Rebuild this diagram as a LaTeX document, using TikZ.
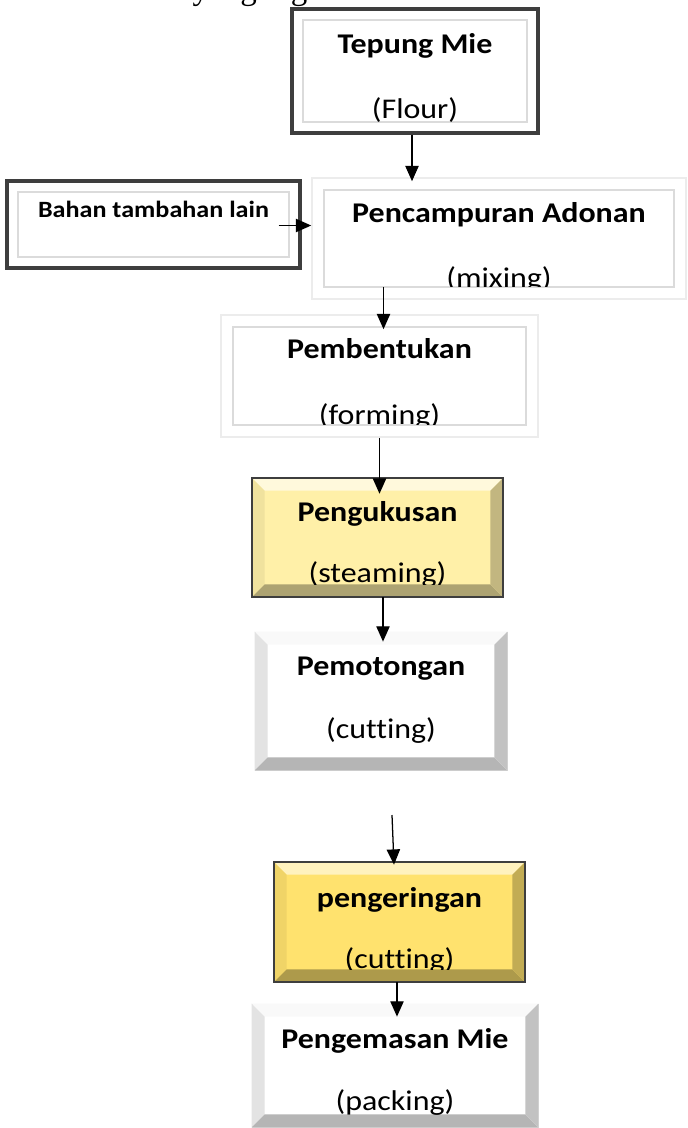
\documentclass[tikz,border=0pt]{standalone}
\usepackage{fontspec}
\setmainfont{Liberation Serif}
\newfontfamily\boxfont[FakeStretch=1.12, Ligatures=NoCommon]{Carlito}
\usetikzlibrary{arrows.meta, calc, fit}
\definecolor{cFrame}{RGB}{62,62,62}
\definecolor{cYellowA}{RGB}{255,240,168}
\definecolor{cYellowB}{RGB}{255,226,110}

\newcommand{\bevelbox}[6]{%
  \fill[#2] (#1.north west) -- (#1.north east) -- ($(#1.north east)+(-#6,#6)$) -- ($(#1.north west)+(#6,#6)$) -- cycle;
  \fill[#3] (#1.north west) -- ($(#1.north west)+(#6,#6)$) -- ($(#1.south west)+(#6,-#6)$) -- (#1.south west) -- cycle;
  \fill[#4] (#1.south west) -- ($(#1.south west)+(#6,-#6)$) -- ($(#1.south east)+(-#6,-#6)$) -- (#1.south east) -- cycle;
  \fill[#5] (#1.north east) -- ($(#1.north east)+(-#6,#6)$) -- ($(#1.south east)+(-#6,-#6)$) -- (#1.south east) -- cycle;
}
\newcommand{\innerframe}[1]{%
  \draw[gray!28, line width=1.6pt] ($(#1.north west)+(13,13)$) rectangle ($(#1.south east)+(-13,-13)$);
}

\begin{document}
\begin{tikzpicture}[x=0.75pt, y=-0.75pt,
    frameA/.style={draw=cFrame, line width=2.4pt, fill=white, inner sep=0pt},
    frameB/.style={draw=gray!15, line width=1.2pt, fill=white, inner sep=0pt},
    yellowA/.style={fill=cYellowA, inner sep=0pt},
    yellowB/.style={fill=cYellowB, inner sep=0pt},
    greybevel/.style={draw=gray!30, line width=0.6pt, fill=white, inner sep=0pt},
    head/.style={font=\boxfont\bfseries\fontsize{21.4}{25}\selectfont, inner sep=0pt, anchor=base},
    sub/.style={font=\boxfont\fontsize{21.4}{25}\selectfont, inner sep=0pt, anchor=base},
    conn/.style={-{Triangle[length=11.5pt, width=10pt]}, line width=0.95pt}]
  \useasboundingbox (0,0) rectangle (688,1128);
  \clip (0,0) rectangle (688,1128);
  \fill[white] (0,0) rectangle (688,1128);
  \node[anchor=base west, font=\fontsize{24.75}{28}\selectfont] (caption) at (188,-1) {yang digunakan};

  \foreach \n/\xa/\ya/\xb/\yb/\s in {tepung/292/9/538/133/frameA, bahan/7/181/300/268/frameA,
      campur/312/178/686/299/frameB, bentuk/221/315/538/437/frameB, kukus/252/478/503/597/yellowA,
      potong/255/632/507/770/greybevel, kering/274/862/525/982/yellowB, kemas/252/1004/538/1127/greybevel}
    \node[\s, fit={(\xa,\ya) (\xb,\yb)}] (\n) {};

  \innerframe{tepung}
  \innerframe{bahan}
  \innerframe{campur}
  \innerframe{bentuk}
  \bevelbox{kukus}{cYellowA!40!white}{cYellowA!94!black}{cYellowA!68!black}{cYellowA!76!black}{13}
  \bevelbox{kering}{cYellowB!45!white}{cYellowB!94!black}{cYellowB!68!black}{cYellowB!76!black}{13}
  \bevelbox{potong}{gray!5}{gray!22}{gray!58}{gray!48}{13}
  \bevelbox{kemas}{gray!5}{gray!22}{gray!58}{gray!48}{13}
  \draw[cFrame, line width=1.8pt] (kukus.north west) rectangle (kukus.south east);
  \draw[cFrame, line width=1.8pt] (kering.north west) rectangle (kering.south east);

  \foreach \n/\t/\b in {tepung/{Tepung Mie}/53, campur/{Pencampuran Adonan}/222, bentuk/Pembentukan/358,
      kukus/Pengukusan/521, potong/Pemotongan/675, kering/pengeringan/907, kemas/{Pengemasan Mie}/1048}
    \node[head] (\n-head) at (\n.center |- 0,\b) {\t};
  \node[head, font=\boxfont\bfseries\fontsize{17.5}{21}\selectfont] (bahan-head) at (bahan.center |- 0,217) {Bahan tambahan lain};

  \foreach \n/\t/\b in {tepung/{(Flour)}/118, campur/{(mixing)}/287, bentuk/{(forming)}/424,
      kukus/{(steaming)}/582, potong/{(cutting)}/738, kering/{(cutting)}/968, kemas/{(packing)}/1110} {
    \begin{scope}
      \clip ($(\n.north west)+(13,13)$) rectangle ($(\n.south east)+(-13,-13)$);
      \node[sub] (\n-sub) at (\n.center |- 0,\b) {\t};
    \end{scope}
  }

  \coordinate (gap) at (392,815);
  \draw[conn] ($(tepung.south)+(-3,0)$) -- ($(tepung.south |- campur.north)+(-3,4)$);
  \draw[conn] ($(bahan.east)+(-23,1)$) -- ($(bahan.east -| campur.west)+(0,1)$);
  \draw[conn] ($(bentuk.north |- campur.south)+(4,-13)$) -- ($(bentuk.north)+(4,15)$);
  \draw[conn] (bentuk.south) -- ($(bentuk.south |- kukus.north)+(0,16)$);
  \draw[conn] ($(potong.north |- kukus.south)+(2,0)$) -- ($(potong.north)+(2,10)$);
  \draw[conn] (gap) -- ($(kering.north)+(-5.5,3)$);
  \draw[conn] ($(kering.south)+(-2.5,0)$) -- ($(kemas.north)+(2,13)$);
\end{tikzpicture}
\end{document}
